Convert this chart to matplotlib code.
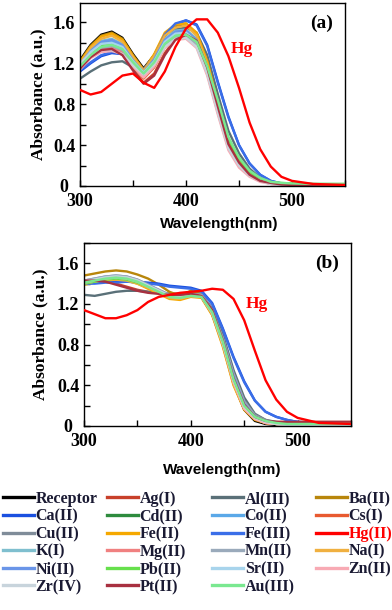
import matplotlib
matplotlib.use("Agg")
import matplotlib.pyplot as plt
from matplotlib.lines import Line2D
from matplotlib.ticker import MultipleLocator

wl = [300, 310, 320, 330, 340, 350, 360, 370, 380, 390, 400, 410,
      420, 430, 440, 450, 460, 470, 480, 490, 500, 520, 550]

# ---- panel (a) absorbance ----
a_receptor = [1.23, 1.38, 1.48, 1.51, 1.45, 1.29, 1.15, 1.28, 1.47, 1.56, 1.58, 1.48, 1.20, 0.80, 0.42, 0.24, 0.12, 0.06, 0.03, 0.015, 0.01, 0.005, 0.0]
a_ag = [1.15, 1.27, 1.34, 1.35, 1.29, 1.14, 1.01, 1.10, 1.30, 1.44, 1.49, 1.43, 1.17, 0.79, 0.42, 0.23, 0.11, 0.05, 0.03, 0.015, 0.01, 0.005, 0.0]
a_al = [1.05, 1.12, 1.18, 1.21, 1.22, 1.16, 1.09, 1.20, 1.42, 1.53, 1.55, 1.50, 1.28, 0.90, 0.54, 0.32, 0.17, 0.08, 0.04, 0.02, 0.01, 0.005, 0.0]
a_ba = [1.22, 1.37, 1.47, 1.50, 1.44, 1.28, 1.14, 1.28, 1.48, 1.57, 1.59, 1.49, 1.21, 0.81, 0.43, 0.24, 0.12, 0.06, 0.03, 0.015, 0.01, 0.005, 0.0]
a_ca = [1.12, 1.20, 1.27, 1.30, 1.29, 1.20, 1.13, 1.25, 1.47, 1.58, 1.62, 1.58, 1.38, 1.02, 0.68, 0.40, 0.22, 0.11, 0.05, 0.025, 0.015, 0.01, 0.005]
a_cd = [1.18, 1.30, 1.38, 1.40, 1.36, 1.23, 1.12, 1.23, 1.41, 1.49, 1.50, 1.42, 1.16, 0.79, 0.43, 0.25, 0.13, 0.06, 0.03, 0.02, 0.015, 0.01, 0.01]
a_co = [1.18, 1.31, 1.40, 1.42, 1.37, 1.23, 1.11, 1.23, 1.42, 1.50, 1.51, 1.42, 1.15, 0.76, 0.40, 0.22, 0.11, 0.05, 0.03, 0.015, 0.01, 0.005, 0.0]
a_cs = [1.16, 1.28, 1.35, 1.36, 1.31, 1.17, 1.05, 1.16, 1.36, 1.46, 1.48, 1.40, 1.13, 0.75, 0.39, 0.21, 0.10, 0.05, 0.03, 0.015, 0.01, 0.005, 0.0]
a_cu = [1.16, 1.27, 1.34, 1.36, 1.32, 1.19, 1.08, 1.19, 1.37, 1.45, 1.46, 1.38, 1.14, 0.78, 0.43, 0.25, 0.13, 0.06, 0.03, 0.015, 0.01, 0.005, 0.0]
a_fe2 = [1.21, 1.36, 1.46, 1.49, 1.43, 1.27, 1.13, 1.29, 1.50, 1.58, 1.59, 1.50, 1.22, 0.82, 0.43, 0.25, 0.12, 0.06, 0.03, 0.015, 0.01, 0.005, 0.0]
a_fe3 = [1.13, 1.21, 1.28, 1.31, 1.30, 1.21, 1.14, 1.26, 1.48, 1.59, 1.62, 1.57, 1.37, 1.01, 0.67, 0.40, 0.22, 0.11, 0.05, 0.025, 0.015, 0.01, 0.005]
a_hg = [0.94, 0.895, 0.92, 1.00, 1.08, 1.10, 1.01, 0.96, 1.12, 1.36, 1.54, 1.63, 1.63, 1.50, 1.27, 0.96, 0.62, 0.36, 0.19, 0.09, 0.05, 0.02, 0.01]
a_k = [1.19, 1.33, 1.42, 1.44, 1.39, 1.24, 1.12, 1.25, 1.44, 1.52, 1.53, 1.44, 1.16, 0.77, 0.40, 0.22, 0.11, 0.05, 0.03, 0.015, 0.01, 0.005, 0.0]
a_mg = [1.15, 1.26, 1.33, 1.35, 1.31, 1.18, 1.07, 1.18, 1.36, 1.44, 1.45, 1.37, 1.10, 0.72, 0.37, 0.20, 0.10, 0.05, 0.02, 0.01, 0.005, 0.0, 0.0]
a_mn = [1.16, 1.28, 1.35, 1.37, 1.33, 1.20, 1.09, 1.20, 1.38, 1.46, 1.47, 1.39, 1.13, 0.75, 0.39, 0.21, 0.10, 0.05, 0.03, 0.015, 0.01, 0.005, 0.0]
a_na = [1.20, 1.35, 1.44, 1.47, 1.41, 1.26, 1.13, 1.27, 1.47, 1.55, 1.57, 1.47, 1.19, 0.79, 0.41, 0.23, 0.11, 0.05, 0.03, 0.015, 0.01, 0.005, 0.0]
a_ni = [1.19, 1.32, 1.41, 1.43, 1.38, 1.23, 1.11, 1.24, 1.43, 1.51, 1.52, 1.43, 1.16, 0.77, 0.40, 0.22, 0.11, 0.05, 0.03, 0.015, 0.01, 0.005, 0.0]
a_pb = [1.17, 1.29, 1.37, 1.39, 1.35, 1.22, 1.11, 1.22, 1.40, 1.48, 1.49, 1.42, 1.17, 0.82, 0.46, 0.27, 0.14, 0.07, 0.04, 0.03, 0.025, 0.02, 0.02]
a_sr = [1.19, 1.31, 1.39, 1.40, 1.36, 1.22, 1.11, 1.22, 1.41, 1.49, 1.50, 1.41, 1.14, 0.75, 0.39, 0.21, 0.10, 0.05, 0.03, 0.015, 0.01, 0.005, 0.0]
a_zn = [1.14, 1.25, 1.31, 1.32, 1.29, 1.17, 1.06, 1.17, 1.35, 1.43, 1.44, 1.35, 1.08, 0.70, 0.35, 0.18, 0.09, 0.04, 0.02, 0.01, 0.005, 0.0, 0.0]
a_zr = [1.20, 1.29, 1.33, 1.33, 1.29, 1.18, 1.09, 1.19, 1.36, 1.44, 1.45, 1.36, 1.10, 0.72, 0.37, 0.20, 0.10, 0.05, 0.02, 0.01, 0.005, 0.0, 0.0]
a_pt = [1.15, 1.26, 1.33, 1.34, 1.28, 1.13, 1.00, 1.08, 1.28, 1.43, 1.48, 1.42, 1.16, 0.78, 0.41, 0.23, 0.11, 0.05, 0.03, 0.015, 0.01, 0.005, 0.0]
a_au = [1.17, 1.28, 1.36, 1.38, 1.34, 1.21, 1.10, 1.21, 1.39, 1.47, 1.48, 1.41, 1.17, 0.84, 0.48, 0.28, 0.15, 0.08, 0.04, 0.03, 0.025, 0.02, 0.02]

# ---- panel (b) absorbance ----
b_receptor = [1.41, 1.42, 1.44, 1.45, 1.44, 1.42, 1.38, 1.33, 1.28, 1.27, 1.29, 1.27, 1.10, 0.80, 0.42, 0.16, 0.05, 0.02, 0.01, 0.005, 0.0, 0.0, 0.0]
b_ag = [1.42, 1.43, 1.43, 1.40, 1.37, 1.34, 1.32, 1.31, 1.30, 1.30, 1.31, 1.29, 1.15, 0.85, 0.48, 0.22, 0.09, 0.05, 0.04, 0.04, 0.04, 0.04, 0.04]
b_al = [1.29, 1.28, 1.30, 1.32, 1.33, 1.33, 1.32, 1.31, 1.30, 1.30, 1.31, 1.28, 1.16, 0.90, 0.55, 0.28, 0.12, 0.06, 0.04, 0.03, 0.03, 0.03, 0.03]
b_ba = [1.48, 1.50, 1.52, 1.53, 1.52, 1.49, 1.45, 1.39, 1.32, 1.28, 1.33, 1.30, 1.12, 0.80, 0.42, 0.17, 0.07, 0.03, 0.02, 0.01, 0.01, 0.0, 0.0]
b_ca = [1.41, 1.41, 1.42, 1.42, 1.42, 1.42, 1.41, 1.40, 1.38, 1.37, 1.36, 1.33, 1.21, 0.96, 0.68, 0.44, 0.25, 0.14, 0.09, 0.06, 0.04, 0.03, 0.02]
b_cd = [1.40, 1.42, 1.44, 1.45, 1.44, 1.41, 1.37, 1.32, 1.27, 1.26, 1.28, 1.27, 1.11, 0.82, 0.45, 0.19, 0.08, 0.04, 0.02, 0.01, 0.01, 0.0, 0.0]
b_co = [1.42, 1.44, 1.46, 1.47, 1.46, 1.43, 1.38, 1.33, 1.28, 1.27, 1.29, 1.28, 1.13, 0.85, 0.50, 0.23, 0.10, 0.05, 0.03, 0.02, 0.01, 0.01, 0.0]
b_cs = [1.42, 1.44, 1.46, 1.46, 1.45, 1.42, 1.37, 1.32, 1.27, 1.26, 1.29, 1.27, 1.11, 0.81, 0.44, 0.18, 0.07, 0.03, 0.02, 0.01, 0.01, 0.0, 0.0]
b_cu = [1.43, 1.45, 1.47, 1.48, 1.47, 1.44, 1.39, 1.34, 1.29, 1.28, 1.30, 1.29, 1.15, 0.87, 0.52, 0.25, 0.11, 0.06, 0.03, 0.02, 0.01, 0.01, 0.0]
b_fe2 = [1.39, 1.41, 1.43, 1.44, 1.43, 1.40, 1.35, 1.30, 1.25, 1.24, 1.27, 1.26, 1.09, 0.78, 0.40, 0.16, 0.06, 0.03, 0.02, 0.01, 0.0, 0.0, 0.0]
b_fe3 = [1.40, 1.40, 1.41, 1.41, 1.42, 1.41, 1.40, 1.39, 1.37, 1.36, 1.35, 1.32, 1.20, 0.95, 0.67, 0.43, 0.25, 0.14, 0.09, 0.06, 0.04, 0.03, 0.02]
b_hg = [1.14, 1.10, 1.06, 1.06, 1.09, 1.14, 1.22, 1.27, 1.29, 1.31, 1.32, 1.33, 1.35, 1.34, 1.25, 1.04, 0.74, 0.45, 0.26, 0.14, 0.08, 0.03, 0.02]
b_k = [1.42, 1.44, 1.46, 1.47, 1.46, 1.43, 1.38, 1.33, 1.28, 1.27, 1.29, 1.28, 1.13, 0.84, 0.48, 0.22, 0.09, 0.04, 0.02, 0.01, 0.01, 0.0, 0.0]
b_mg = [1.41, 1.43, 1.45, 1.45, 1.44, 1.41, 1.37, 1.32, 1.27, 1.26, 1.28, 1.27, 1.11, 0.81, 0.43, 0.18, 0.07, 0.03, 0.02, 0.01, 0.01, 0.0, 0.0]
b_mn = [1.43, 1.45, 1.47, 1.48, 1.47, 1.44, 1.39, 1.34, 1.29, 1.28, 1.30, 1.29, 1.14, 0.86, 0.51, 0.24, 0.10, 0.05, 0.03, 0.02, 0.01, 0.01, 0.0]
b_na = [1.40, 1.42, 1.44, 1.44, 1.43, 1.40, 1.36, 1.31, 1.26, 1.25, 1.28, 1.27, 1.10, 0.79, 0.41, 0.17, 0.07, 0.03, 0.02, 0.01, 0.0, 0.0, 0.0]
b_ni = [1.42, 1.44, 1.46, 1.46, 1.45, 1.42, 1.38, 1.33, 1.28, 1.27, 1.29, 1.28, 1.13, 0.84, 0.49, 0.22, 0.09, 0.05, 0.03, 0.02, 0.01, 0.01, 0.0]
b_pb = [1.40, 1.42, 1.44, 1.45, 1.44, 1.41, 1.37, 1.32, 1.27, 1.26, 1.28, 1.27, 1.11, 0.81, 0.44, 0.18, 0.08, 0.04, 0.02, 0.02, 0.01, 0.01, 0.01]
b_sr = [1.42, 1.44, 1.46, 1.47, 1.46, 1.43, 1.38, 1.33, 1.28, 1.27, 1.29, 1.28, 1.12, 0.83, 0.46, 0.20, 0.08, 0.04, 0.02, 0.01, 0.01, 0.0, 0.0]
b_zn = [1.41, 1.43, 1.45, 1.46, 1.45, 1.42, 1.37, 1.32, 1.27, 1.26, 1.28, 1.27, 1.11, 0.81, 0.43, 0.17, 0.07, 0.03, 0.02, 0.01, 0.0, 0.0, 0.0]
b_zr = [1.42, 1.44, 1.46, 1.47, 1.46, 1.43, 1.38, 1.33, 1.28, 1.27, 1.29, 1.28, 1.12, 0.82, 0.45, 0.19, 0.08, 0.04, 0.02, 0.01, 0.01, 0.0, 0.0]
b_pt = [1.43, 1.43, 1.42, 1.39, 1.36, 1.33, 1.31, 1.30, 1.29, 1.29, 1.30, 1.28, 1.14, 0.84, 0.47, 0.21, 0.09, 0.05, 0.04, 0.04, 0.04, 0.04, 0.04]
b_au = [1.41, 1.43, 1.45, 1.46, 1.45, 1.42, 1.37, 1.32, 1.27, 1.26, 1.28, 1.27, 1.12, 0.83, 0.46, 0.20, 0.09, 0.05, 0.03, 0.02, 0.02, 0.02, 0.02]

labels = ["Receptor", "Ag(I)", "Al(III)", "Ba(II)", "Ca(II)", "Cd(II)", "Co(II)", "Cs(I)",
          "Cu(II)", "Fe(II)", "Fe(III)", "Hg(II)", "K(I)", "Mg(II)", "Mn(II)", "Na(I)",
          "Ni(II)", "Pb(II)", "Sr(II)", "Zn(II)", "Zr(IV)", "Pt(II)", "Au(III)"]
colors = ["#000000", "#c8402a", "#5a7078", "#b8860b", "#1a50e0", "#2e8b3e", "#5aa8e8", "#e85a30",
          "#7f8c99", "#f5a800", "#3a6ee8", "#ff0000", "#7fbfcf", "#f08080", "#9aaabb", "#f0b040",
          "#6a95e8", "#66e04c", "#a8d4ec", "#f8aab4", "#c8d4dc", "#a83040", "#7ae890"]
series_a = [a_receptor, a_ag, a_al, a_ba, a_ca, a_cd, a_co, a_cs, a_cu, a_fe2, a_fe3, a_hg,
            a_k, a_mg, a_mn, a_na, a_ni, a_pb, a_sr, a_zn, a_zr, a_pt, a_au]
series_b = [b_receptor, b_ag, b_al, b_ba, b_ca, b_cd, b_co, b_cs, b_cu, b_fe2, b_fe3, b_hg,
            b_k, b_mg, b_mn, b_na, b_ni, b_pb, b_sr, b_zn, b_zr, b_pt, b_au]

serif = "Liberation Serif"
sans = "Liberation Sans"
W, H = 392, 610

fig = plt.figure(figsize=(W / 100, H / 100), dpi=100)


def px_axes(l, t, r, b):
    return fig.add_axes([l / W, 1 - b / H, (r - l) / W, (b - t) / H])


def style(ax, tag, hg_xy, ytop):
    ax.set_xlim(300, 550)
    ax.set_ylim(0, ytop)
    ax.xaxis.set_major_locator(MultipleLocator(100))
    ax.xaxis.set_minor_locator(MultipleLocator(50))
    ax.yaxis.set_minor_locator(MultipleLocator(0.2))
    ax.tick_params(which="both", direction="in", length=4, width=1)
    ax.tick_params(axis="x", pad=5)
    ax.tick_params(axis="y", pad=11.5)
    ax.set_yticks([0, 0.4, 0.8, 1.2, 1.6])
    ax.set_yticklabels(["0", "0.4", "0.8", "1.2", "1.6"])
    for lab in ax.get_xticklabels() + ax.get_yticklabels():
        lab.set_fontfamily(serif)
        lab.set_fontweight("bold")
        lab.set_fontsize(13)
    for lab in ax.get_yticklabels():
        lab.set_horizontalalignment("center")
    ax.set_ylabel("Absorbance (a.u.)", fontfamily=serif, fontweight="bold", fontsize=12.5)
    ax.set_xlabel("Wavelength(nm)", fontfamily=sans, fontweight="bold", fontsize=11)
    ax.text(0.955, 0.89, tag, transform=ax.transAxes, ha="right", va="center",
            fontfamily=serif, fontweight="bold", fontsize=14)
    ax.text(hg_xy[0], hg_xy[1], "Hg", color="#ff0000", ha="center", va="center",
            fontfamily=serif, fontweight="bold", fontsize=12.5)
    for s in ax.spines.values():
        s.set_linewidth(1)


ax_a = px_axes(80, 3, 345, 186)
ax_b = px_axes(84, 243, 351, 426)

handles = []
for lab, col, ya, yb in zip(labels, colors, series_a, series_b):
    z = 5 if lab == "Hg(II)" else 2
    ax_a.plot(wl, ya, color=col, lw=1.7, zorder=z, solid_joinstyle="round")
    ax_b.plot(wl, yb, color=col, lw=1.7, zorder=z, solid_joinstyle="round")
    handles.append(Line2D([], [], color=col, lw=2.4))

style(ax_a, "(a)", (453, 1.34), 1.79)
style(ax_b, "(b)", (462, 1.20), 1.80)
ax_a.xaxis.set_label_coords(0.525, -0.172)
ax_b.xaxis.set_label_coords(0.517, -0.200)
ax_a.yaxis.set_label_coords(-0.125, 0.5)
ax_b.yaxis.set_label_coords(-0.135, 0.5)

# legend: 4 columns, filled row by row like the original
col_x = [3, 107, 212, 316]
for c in range(4):
    idx = list(range(c, len(labels), 4))
    leg = fig.legend([handles[i] for i in idx], [labels[i] for i in idx],
                     loc="upper left", bbox_to_anchor=(col_x[c] / W, 1 - 491 / H),
                     frameon=False, borderpad=0, borderaxespad=0,
                     handlelength=1.95, handletextpad=0.1, labelspacing=0.1,
                     prop={"family": serif, "weight": "bold", "size": 11.5})
    for i, t in zip(idx, leg.get_texts()):
        t.set_color("#ff0000" if labels[i] == "Hg(II)" else "#1a1a33")

fig.savefig("out.png", dpi=100)
